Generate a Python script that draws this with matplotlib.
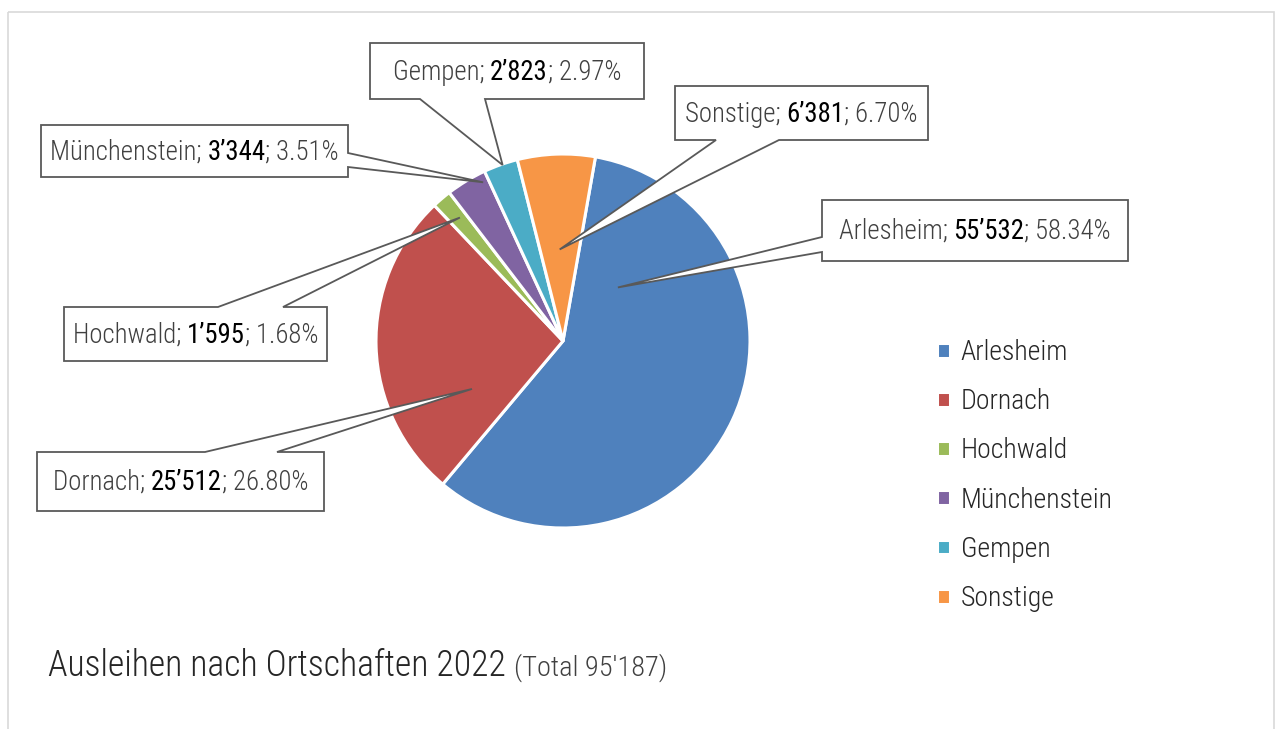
import numpy as np
import matplotlib
matplotlib.use("Agg")
import matplotlib.pyplot as plt
from matplotlib.patches import Polygon, Rectangle
from matplotlib.offsetbox import TextArea, HPacker, AnnotationBbox
from matplotlib import font_manager

# Daten
orte = ["Arlesheim", "Dornach", "Hochwald", "Münchenstein", "Gempen", "Sonstige"]
ausleihen = [55532, 25512, 1595, 3344, 2823, 6381]
anteile = ["58.34%", "26.80%", "1.68%", "3.51%", "2.97%", "6.70%"]
farben = ["#4F81BD", "#C0504D", "#9BBB59", "#8064A2", "#4BACC6", "#F79646"]
titel = "Ausleihen nach Ortschaften 2022"
total_text = "(Total 95'187)"

# Schrift: schmale, leichte Schrift wenn vorhanden
namen = {f.name for f in font_manager.fontManager.ttflist}
schrift = "DejaVu Sans"
for kandidat in ["Roboto Condensed", "Barlow Semi Condensed", "Asap Condensed", "Archivo Narrow"]:
    if kandidat in namen:
        schrift = kandidat
        break
leicht = 300
normal = 400

W, H = 1277, 729
fig = plt.figure(figsize=(W / 100, H / 100), dpi=100)

# Kreisdiagramm (Mittelpunkt und Radius in Pixel)
cx, cy, r = 563, 341, 187
seite = 2 * r * 1.25
ax = fig.add_axes([(cx - seite / 2) / W, (H - cy - seite / 2) / H, seite / W, seite / H])
wedges, _ = ax.pie(ausleihen, colors=farben, startangle=80, counterclock=False,
                   wedgeprops=dict(edgecolor="white", linewidth=2.2))
ax.set_xlim(-1.25, 1.25)
ax.set_ylim(-1.25, 1.25)

# Overlay in Pixelkoordinaten
ov = fig.add_axes([0, 0, 1, 1], zorder=5)
ov.set_xlim(0, W)
ov.set_ylim(H, 0)
ov.axis("off")
ov.add_patch(Rectangle((8, 12), 1266, 740, fill=False, edgecolor="#d9d9d9", lw=1.2, clip_on=False))

# Callouts: Box (x0, y0, x1, y1), Seite, Basis der Spitze, Spitze (Radiusanteil, Position im Segment im Uhrzeigersinn)
callouts = [
    ((822, 200, 1128, 261), "left", (237, 252), (0.41, 0.17)),
    ((37, 452, 324, 511), "top", (205, 277), (0.55, 0.23)),
    ((64, 307, 327, 361), "top", (218, 283), (0.86, 0.6)),
    ((41, 125, 348, 177), "right", (153, 167), (0.95, 0.85)),
    ((370, 43, 644, 99), "bottom", (420, 485), (0.995, 0.55)),
    ((675, 86, 928, 140), "bottom", (716, 779), (0.49, 0.5)),
]

fig.canvas.draw()
for i, (box, seite_b, basis, (rf, pos)) in enumerate(callouts):
    w = wedges[i]
    th = np.deg2rad(w.theta2 - pos * (w.theta2 - w.theta1))
    disp = ax.transData.transform((rf * np.cos(th), rf * np.sin(th)))
    tx, ty = ov.transData.inverted().transform(disp)
    x0, y0, x1, y1 = box
    b0, b1 = basis
    if seite_b == "top":
        pts = [(x0, y0), (b0, y0), (tx, ty), (b1, y0), (x1, y0), (x1, y1), (x0, y1)]
    elif seite_b == "bottom":
        pts = [(x0, y0), (x1, y0), (x1, y1), (b1, y1), (tx, ty), (b0, y1), (x0, y1)]
    elif seite_b == "left":
        pts = [(x0, y0), (x1, y0), (x1, y1), (x0, y1), (x0, b1), (tx, ty), (x0, b0)]
    else:
        pts = [(x0, y0), (x1, y0), (x1, b0), (tx, ty), (x1, b1), (x1, y1), (x0, y1)]
    ov.add_patch(Polygon(pts, closed=True, facecolor="white", edgecolor="#595959", lw=1.3))

    zahl = f"{ausleihen[i]:,}".replace(",", "’")
    teile = [
        TextArea(orte[i] + "; ", textprops=dict(fontsize=19.3, color="#404040", family=schrift, weight=leicht)),
        TextArea(zahl, textprops=dict(fontsize=19.3, color="black", family=schrift, weight=normal)),
        TextArea("; " + anteile[i], textprops=dict(fontsize=19.3, color="#404040", family=schrift, weight=leicht)),
    ]
    pack = HPacker(children=teile, align="baseline", pad=0, sep=0)
    ov.add_artist(AnnotationBbox(pack, ((x0 + x1) / 2, (y0 + y1) / 2 + 1), xycoords="data",
                                 frameon=False, box_alignment=(0.5, 0.5), pad=0))

# Legende
fig.legend(wedges, orte, loc="upper left", bbox_to_anchor=(912 / W, 1 - 314 / H),
           frameon=False, handlelength=0.45, handleheight=0.45, handletextpad=0.4,
           labelspacing=0.80, prop=dict(family=schrift, size=20, weight=leicht), labelcolor="#262626")

# Titel
t = ov.text(48, 676, titel, fontsize=25.7, color="#262626", family=schrift, weight=leicht, va="baseline")
fig.canvas.draw()
bb = t.get_window_extent()
tx_end = ov.transData.inverted().transform((bb.x1, bb.y0))[0]
ov.text(tx_end + 8, 676, total_text, fontsize=20.4, color="#404040", family=schrift, weight=leicht, va="baseline")

fig.savefig("out.png", dpi=100)
